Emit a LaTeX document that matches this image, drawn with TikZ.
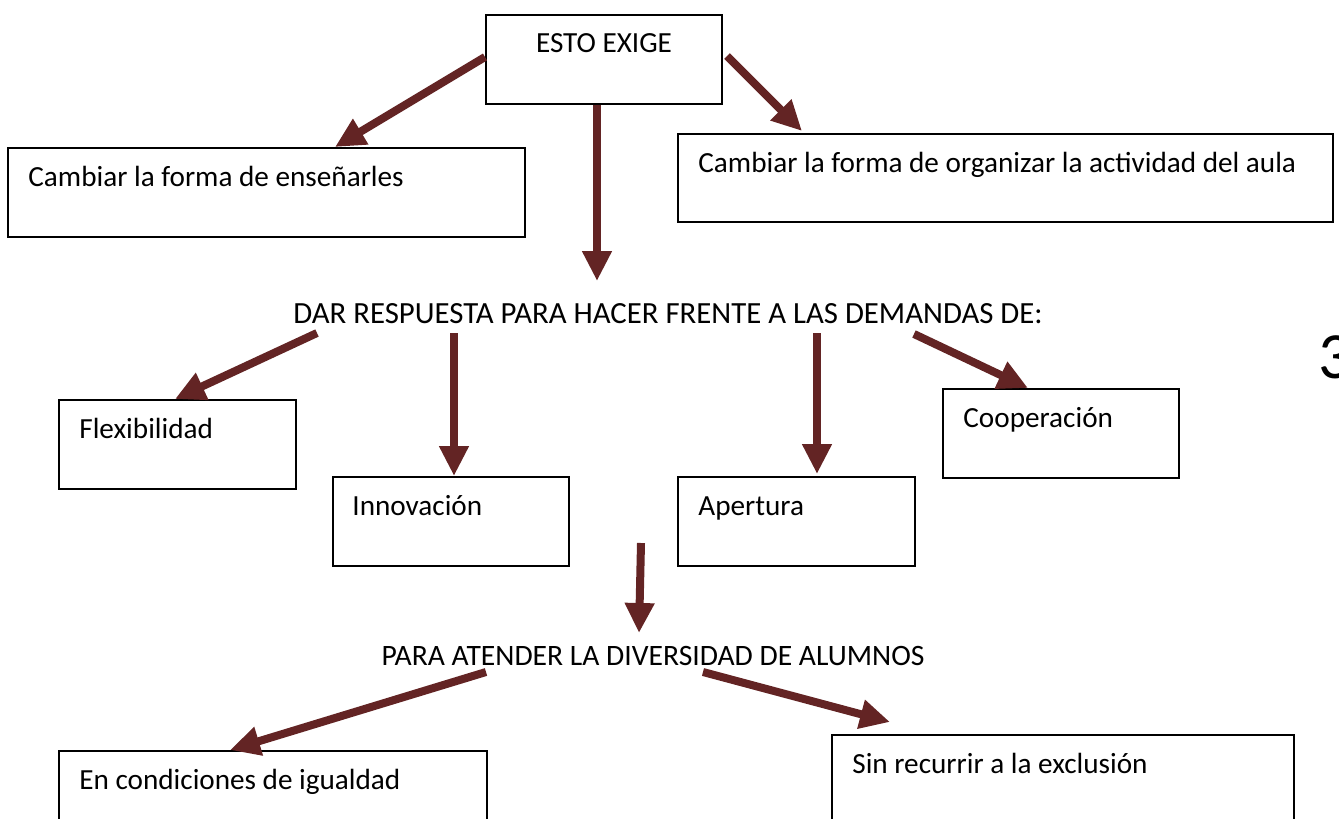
\documentclass[tikz,border=0pt]{standalone}
\usepackage{fontspec}
\setmainfont{Carlito}
\usetikzlibrary{arrows.meta,calc}
\definecolor{arr}{RGB}{99,36,36}
\tikzset{
  box/.style={draw=black, line width=1pt, anchor=north west, inner sep=0pt, fill=white},
  lbl/.style={anchor=base west, inner sep=0pt, font=\fontsize{14.6}{17}\selectfont},
  clbl/.style={anchor=base, inner sep=0pt, font=\fontsize{14.6}{17}\selectfont},
  arrow/.style={draw=arr, line width=4pt, -{Triangle[length=15pt,width=14pt]}}
}
\begin{document}
\begin{tikzpicture}[x=0.5pt,y=-0.5pt]
\useasboundingbox (0,0) rectangle (1339,819);
\clip (0,0) rectangle (1339,819);
% boxes
\node[box, minimum width=118pt, minimum height=44.5pt] (esto) at (485,14) {};
\node[box, minimum width=258.5pt, minimum height=44.5pt] (b1) at (7,147) {};
\node[box, minimum width=327.5pt, minimum height=44pt] (b2) at (677,133) {};
\node[box, minimum width=118.5pt, minimum height=44.5pt] (flex) at (58,399) {};
\node[box, minimum width=118pt, minimum height=44.5pt] (inno) at (332,476) {};
\node[box, minimum width=118.5pt, minimum height=44.5pt] (aper) at (677,476) {};
\node[box, minimum width=118pt, minimum height=44.5pt] (coop) at (942,388) {};
\node[box, minimum width=214pt, minimum height=60pt] (igual) at (58,750) {};
\node[box, minimum width=231pt, minimum height=60pt] (excl) at (831,734) {};
% texts
\node[clbl] (testo) at ($(esto.north)+(0,39)$) {ESTO EXIGE};
\node[lbl] (tb1) at ($(b1.north west)+(21,39)$) {Cambiar la forma de enseñarles};
\node[lbl] (tb2) at ($(b2.north west)+(21,39)$) {Cambiar la forma de organizar la actividad del aula};
\node[lbl] (tflex) at ($(flex.north west)+(21,39)$) {Flexibilidad};
\node[lbl] (tinno) at ($(inno.north west)+(20,39)$) {Innovación};
\node[lbl] (taper) at ($(aper.north west)+(21,39)$) {Apertura};
\node[lbl] (tcoop) at ($(coop.north west)+(21,39)$) {Cooperación};
\node[lbl] (tigual) at ($(igual.north west)+(21,39)$) {En condiciones de igualdad};
\node[lbl] (texcl) at ($(excl.north west)+(21,39)$) {Sin recurrir a la exclusión};
\node[clbl, font=\fontsize{15.4}{18}\selectfont] (dar) at (668,323) {DAR RESPUESTA PARA HACER FRENTE A LAS DEMANDAS DE:};
\node[clbl, font=\fontsize{14.8}{17}\selectfont] (para) at (653,665) {PARA ATENDER LA DIVERSIDAD DE ALUMNOS};
\node[anchor=base west, inner sep=0pt, font=\fontsize{33}{36}\selectfont] (pnum) at (1318,378) {3};
% arrows
\draw[arrow] ($(esto.north west)+(0,43)$) -- ($(b1.north west)+(328,0)$);
\draw[arrow] ($(esto.north east)+(4,42)$) -- ($(b2.north west)+(125,-2)$);
\draw[arrow] ($(esto.south west)+(112,0)$) -- ($(dar.base)+(-71,-42)$);
\draw[arrow] ($(dar.base)+(-351,10)$) -- ($(flex.north west)+(117,0)$);
\draw[arrow] ($(dar.base)+(-214,10)$) -- ($(inno.north west)+(122,0)$);
\draw[arrow] ($(dar.base)+(149,10)$) -- ($(aper.north west)+(140,-2)$);
\draw[arrow] ($(dar.base)+(246,11)$) -- ($(coop.north west)+(86,0)$);
\draw[arrow] ($(inno.south east)+(71,-24)$) -- ($(para.base)+(-14,-32)$);
\draw[arrow] ($(para.base)+(-167,7)$) -- ($(igual.north west)+(172,0)$);
\draw[arrow] ($(para.base)+(50,7)$) -- ($(excl.north west)+(59,-12)$);
\end{tikzpicture}
\end{document}
